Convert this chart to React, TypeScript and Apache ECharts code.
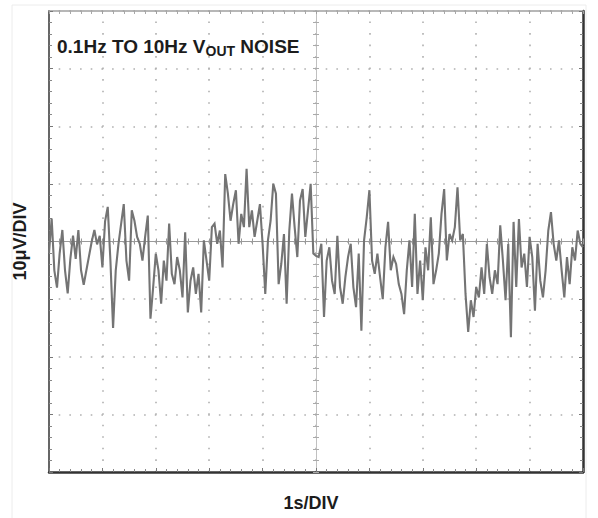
import React, { useEffect, useRef } from "react";
import * as echarts from "echarts";

// ---- data ----
const SAMPLE_STEP_S = 0.05; // one sample every 0.05 s, 0 .. 10 s
const NOISE_UV_S0 = [-2, 4, -5, -8, -2, 2, -5, -9, -3, 1, -3, 2, -5, -7.5, -5, -2.5, 0, 2, -0.5, 1];
const NOISE_UV_S1 = [-4.5, 3.5, 6, -3.3, -15, -5, -0.5, 3, 6.5, -3.3, -6.8, 5.4, 3.6, 0.8, -0.4, -3.3, 0.8, 4.5, -13.4, -8];
const NOISE_UV_S2 = [-2.1, -5, -10.8, -3.3, -6.8, 3.1, -5.6, -7.4, -2.7, -5, -9.7, 1.6, -12.3, -6.8, -4.5, -9.1, -5.6, -12.3, 0.2, -3.3];
const NOISE_UV_S3 = [-6.8, 2.5, 3.1, -0.4, 1.9, -4.5, 11.7, 8.3, 3.6, 6.5, 8.9, -0.4, 4.8, 2.5, 12.6, 2.5, 5.4, 0.8, 3.6, 6.5];
const NOISE_UV_S4 = [-0.4, -9.1, 0.2, 3.6, 10, 8.3, -7.4, -3.9, 1.3, -10.8, 1.9, 8.3, 2.5, -2.7, 7.1, 9.1, 0.8, 5.4, 10, -2.1];
const NOISE_UV_S5 = [-2.5, -2.7, -0.4, -13.1, -3.3, -1, -6.8, -9.1, 1, -7.9, -10.8, -6.2, -2.7, -0.4, -7.9, -11.4, -2.1, -15.5, 0.2, 4.2];
const NOISE_UV_S6 = [8.9, -3.3, -5.6, -2.1, -6.2, -10, -1, 3.4, -5, -2.7, -3.9, -7.4, -9.1, -12.6, -5, 0.2, -7.9, 4.8, -9.1, -3.3];
const NOISE_UV_S7 = [-10.2, -1, -5, 4.2, -7.4, -5, -2.1, 4.8, 9.1, -3.3, 1.3, 0.2, 2.5, 9.4, 0.2, 1.3, -9.1, -15.7, -10.2, -13.1];
const NOISE_UV_S8 = [-7.9, -9.7, -4.5, -9.1, -0.4, -6.2, -9.1, -5, -7.4, 2.8, -3.3, -10.2, -0.4, -16.6, 3.4, -7.9, 3.9, -4.5, -2.1, -7.9];
const NOISE_UV_S9 = [0.8, -2.7, -12, -0.4, -6.8, -9.7, -5, 1.9, 5.1, -0.4, -3.3, 0.2, -5, -9.7, -2.7, -7.4, -1, -3.3, 1.9, -0.4];
const NOISE_UV_END = [-1];

const TIME_RANGE_S = [0, 10];
const TIME_DIV_S = 1;
const VOLT_RANGE_UV = [-40, 40];
const VOLT_DIV_UV = 10;

const TITLE_MAIN = "0.1Hz TO 10Hz V";
const TITLE_SUB = "OUT";
const TITLE_TAIL = " NOISE";
const X_NAME = "1s/DIV";
const Y_NAME = "10μV/DIV";

const FONT = "Arial, 'Liberation Sans', Helvetica, sans-serif";
const TEXT_COLOR = "#1c1c1c";

export default function App() {
  const ref = useRef<HTMLDivElement>(null);

  useEffect(() => {
    const chart = echarts.init(ref.current!, null, { renderer: "svg" });
    const noise = [
      ...NOISE_UV_S0, ...NOISE_UV_S1, ...NOISE_UV_S2, ...NOISE_UV_S3, ...NOISE_UV_S4,
      ...NOISE_UV_S5, ...NOISE_UV_S6, ...NOISE_UV_S7, ...NOISE_UV_S8, ...NOISE_UV_S9,
      ...NOISE_UV_END,
    ];
    const data = noise.map((v, i) => [Number((i * SAMPLE_STEP_S).toFixed(2)), v]);

    const nameStyle = { fontFamily: FONT, fontSize: 18, fontWeight: "bold" as const, color: TEXT_COLOR };

    const baseX = {
      type: "value" as const,
      min: TIME_RANGE_S[0],
      max: TIME_RANGE_S[1],
      interval: TIME_DIV_S,
      axisLabel: { show: false },
      splitLine: { show: false },
    };
    const baseY = {
      type: "value" as const,
      min: VOLT_RANGE_UV[0],
      max: VOLT_RANGE_UV[1],
      interval: VOLT_DIV_UV,
      axisLabel: { show: false },
      splitLine: { show: false },
    };

    chart.setOption({
      animation: false,
      backgroundColor: "#ffffff",
      grid: { left: 49, top: 11, width: 534, height: 461, containLabel: false },
      xAxis: [
        {
          ...baseX,
          position: "bottom",
          axisLine: { show: true, onZero: false, lineStyle: { color: "#333", width: 2.5 } },
          axisTick: { show: true, inside: true, length: 4, lineStyle: { color: "#777", width: 1 } },
          minorTick: { show: true, splitNumber: 5, length: 3, lineStyle: { color: "#888", width: 1 } },
          splitLine: {
            show: true,
            lineStyle: { color: "#b0b0b0", width: 1.6, type: [1.6, 9.92], dashOffset: 0.8 },
          },
          name: X_NAME,
          nameLocation: "middle",
          nameGap: 22,
          nameTextStyle: { ...nameStyle, padding: [0, 10, 0, 0] },
        },
        {
          ...baseX,
          position: "top",
          axisLine: { show: true, onZero: false, lineStyle: { color: "#a0a0a0", width: 1.5 } },
          axisTick: { show: true, inside: true, length: 3, lineStyle: { color: "#a0a0a0", width: 1 } },
          minorTick: { show: true, splitNumber: 5, length: 3, lineStyle: { color: "#a8a8a8", width: 1 } },
        },
        {
          ...baseX,
          position: "bottom",
          axisLine: { show: true, onZero: true, onZeroAxisIndex: 0, lineStyle: { color: "#9a9a9a", width: 1 } },
          axisTick: { show: true, inside: false, length: 3, lineStyle: { color: "#999", width: 1 } },
          minorTick: { show: true, splitNumber: 5, length: 3, lineStyle: { color: "#999", width: 1 } },
        },
        {
          ...baseX,
          position: "bottom",
          axisLine: { show: true, onZero: true, onZeroAxisIndex: 0, lineStyle: { color: "#9a9a9a", width: 1 } },
          axisTick: { show: true, inside: true, length: 3, lineStyle: { color: "#999", width: 1 } },
          minorTick: { show: true, splitNumber: 5, length: 3, lineStyle: { color: "#999", width: 1 } },
        },
        {
          type: "value",
          min: -(TIME_RANGE_S[1] - TIME_RANGE_S[0]) / 2,
          max: (TIME_RANGE_S[1] - TIME_RANGE_S[0]) / 2,
          show: false,
        },
      ],
      yAxis: [
        {
          ...baseY,
          position: "left",
          axisLine: { show: true, onZero: false, lineStyle: { color: "#666", width: 2 } },
          axisTick: { show: true, inside: true, length: 4, lineStyle: { color: "#777", width: 1 } },
          minorTick: { show: true, splitNumber: 5, length: 3, lineStyle: { color: "#888", width: 1 } },
          splitLine: {
            show: true,
            lineStyle: { color: "#b0b0b0", width: 1.6, type: [1.6, 9.08], dashOffset: 0.8 },
          },
          name: Y_NAME,
          nameLocation: "middle",
          nameRotate: 90,
          nameGap: 20,
          nameTextStyle: nameStyle,
        },
        {
          ...baseY,
          position: "right",
          axisLine: { show: true, onZero: false, lineStyle: { color: "#333", width: 2.5 } },
          axisTick: { show: true, inside: true, length: 4, lineStyle: { color: "#777", width: 1 } },
          minorTick: { show: true, splitNumber: 5, length: 3, lineStyle: { color: "#888", width: 1 } },
        },
        {
          ...baseY,
          position: "left",
          axisLine: { show: true, onZero: true, onZeroAxisIndex: 4, lineStyle: { color: "#c0c0c0", width: 1 } },
          axisTick: { show: true, inside: false, length: 3, lineStyle: { color: "#aaa", width: 1 } },
          minorTick: { show: true, splitNumber: 5, length: 3, lineStyle: { color: "#aaa", width: 1 } },
        },
        {
          ...baseY,
          position: "left",
          axisLine: { show: true, onZero: true, onZeroAxisIndex: 4, lineStyle: { color: "#c0c0c0", width: 1 } },
          axisTick: { show: true, inside: true, length: 3, lineStyle: { color: "#aaa", width: 1 } },
          minorTick: { show: true, splitNumber: 5, length: 3, lineStyle: { color: "#aaa", width: 1 } },
        },
      ],
      graphic: [
        {
          type: "rect",
          silent: true,
          z: -10,
          shape: { x: 12, y: 5, width: 574, height: 520 },
          style: { fill: "none", stroke: "#ececec", lineWidth: 1 },
        },
        {
          type: "text",
          left: 57,
          top: 37,
          z: 100,
          style: {
            text: `{a|${TITLE_MAIN}}{b|${TITLE_SUB}}{a|${TITLE_TAIL}}`,
            rich: {
              a: { fontFamily: FONT, fontSize: 19, fontWeight: "bold", fill: TEXT_COLOR, lineHeight: 22 },
              b: {
                fontFamily: FONT,
                fontSize: 14,
                fontWeight: "bold",
                fill: TEXT_COLOR,
                lineHeight: 10,
                verticalAlign: "bottom",
              },
            },
          },
        },
      ],
      series: [
        {
          type: "line",
          xAxisIndex: 0,
          yAxisIndex: 0,
          data,
          showSymbol: false,
          symbol: "none",
          z: 10,
          lineStyle: { color: "#747474", width: 2.1, join: "miter" },
        },
      ],
    });

    return () => chart.dispose();
  }, []);

  return (
    <div
      ref={ref}
      style={{ position: "fixed", left: 0, top: 0, width: 598, height: 518, background: "#fff" }}
    />
  );
}
